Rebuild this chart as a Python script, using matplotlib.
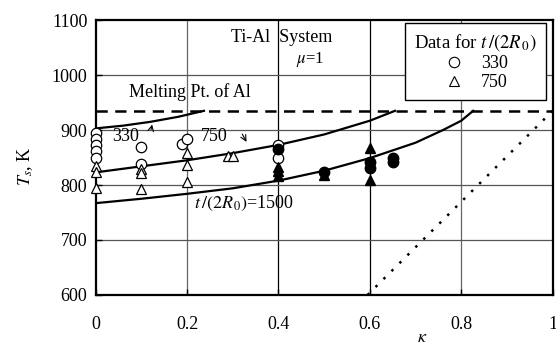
import numpy as np
import matplotlib.pyplot as plt
from matplotlib.lines import Line2D

plt.rcParams['font.family'] = ['Liberation Serif', 'DejaVu Serif']
plt.rcParams['mathtext.fontset'] = 'stix'

# open symbols: t/(2R0) = 330 (circles) and 750 (triangles)
kappa_330 = [0, 0, 0, 0, 0, 0.1, 0.1, 0.19, 0.2, 0.4, 0.4]
T_330 = [894, 883, 872, 862, 850, 870, 839, 875, 883, 873, 849]

kappa_750 = [0, 0, 0, 0.1, 0.1, 0.1, 0.2, 0.2, 0.2, 0.29, 0.3]
T_750 = [835, 823, 795, 830, 822, 792, 858, 836, 806, 852, 853]

# filled symbols
kappa_fc = [0.4, 0.5, 0.6, 0.6, 0.65, 0.65]
T_fc = [866, 824, 842, 831, 850, 841]
kappa_ft = [0.4, 0.4, 0.4, 0.5, 0.6, 0.6]
T_ft = [833, 825, 817, 819, 867, 809]

# calculated curves
curve_k_330 = [0, 0.06, 0.12, 0.18, 0.237]
curve_T_330 = [903, 908, 915, 924, 935]
curve_k_750 = [0, 0.1, 0.2, 0.3, 0.4, 0.5, 0.6, 0.655]
curve_T_750 = [823, 834, 845, 858, 873, 892, 917, 935]
curve_k_1500 = [0, 0.1, 0.2, 0.3, 0.4, 0.5, 0.6, 0.7, 0.76, 0.8, 0.826]
curve_T_1500 = [767, 775, 784, 794, 808, 826, 849, 877, 900, 917, 935]

melt_T = 935
dotted_k = [0.595, 1.0]
dotted_T = [600, 935]

fig = plt.figure(figsize=(5.56, 3.47), dpi=100)
ax = fig.add_axes([0.172, 0.150, 0.822, 0.792])

# grid
for v in [0.2, 0.8]:
    ax.axvline(v, color='#666666', lw=0.9, zorder=1)
for v in [0.4, 0.6]:
    ax.axvline(v, color='black', lw=0.9, zorder=1)
for h in [700, 800, 900, 1000]:
    ax.axhline(h, color='#555555', lw=0.9, zorder=1)

ax.axhline(melt_T, color='black', lw=1.8, ls=(0, (4.5, 3)), zorder=2)
ax.plot(dotted_k, dotted_T, color='black', lw=1.8, ls=(0, (1, 3.5)), zorder=2, clip_on=False)

for k, T in [(curve_k_330, curve_T_330), (curve_k_750, curve_T_750),
             (curve_k_1500, curve_T_1500)]:
    ax.plot(k, T, color='black', lw=1.6, zorder=3)

ms = 7.5
ax.plot(kappa_330, T_330, 'o', mfc='white', mec='black', mew=0.9, ms=ms,
        zorder=4, clip_on=False)
ax.plot(kappa_750, T_750, '^', mfc='white', mec='black', mew=0.9, ms=ms,
        zorder=4, clip_on=False)
ax.plot(kappa_ft, T_ft, '^', color='black', ms=ms, zorder=5)
ax.plot(kappa_fc, T_fc, 'o', color='black', ms=ms, zorder=5)

ax.set_xlim(0, 1)
ax.set_ylim(600, 1100)
ax.set_xticks([0, 0.2, 0.4, 0.6, 0.8, 1])
ax.set_xticklabels(['0', '0.2', '0.4', '0.6', '0.8', '1'])
ax.set_yticks([600, 700, 800, 900, 1000, 1100])
ax.tick_params(direction='in', length=4, width=1, labelsize=13, pad=15,
               colors='black')
ax.tick_params(axis='y', pad=6)
for s in ax.spines.values():
    s.set_linewidth(1.6)

ax.text(0.408, 1068, 'Ti-Al  System', fontsize=13, ha='center', va='center')
ax.text(0.47, 1028, '$\\mu$=1', fontsize=12, ha='center', va='center')
ax.text(0.206, 970, 'Melting Pt. of Al', fontsize=13, ha='center', va='center')
ax.text(0.036, 889, '330', fontsize=13, ha='left', va='center')
ax.text(0.23, 889, '750', fontsize=13, ha='left', va='center')
ax.text(0.215, 767, '$t\\,/(2R_{\\,0})$=1500', fontsize=13, ha='left',
        va='center')
ax.annotate('', xy=(0.125, 915), xytext=(0.12, 896),
            arrowprops=dict(arrowstyle='->', lw=0.8, color='black'))
ax.annotate('', xy=(0.333, 874), xytext=(0.318, 897),
            arrowprops=dict(arrowstyle='->', lw=0.8, color='black'))

handles = [
    Line2D([], [], ls='none', marker='o', mfc='white', mec='black', mew=0.8, ms=7.5),
    Line2D([], [], ls='none', marker='^', mfc='white', mec='black', mew=0.8, ms=7.5),
]
leg = ax.legend(handles, ['330', '750'], title='Data for $t\\,/(2R_{\\,0})$',
                loc='upper right', bbox_to_anchor=(0.985, 0.99),
                borderaxespad=0, fontsize=13, title_fontsize=13.5,
                fancybox=False, framealpha=1, edgecolor='black',
                handletextpad=0.9, labelspacing=0.12, borderpad=0.5,
                handlelength=1.2)
leg.get_frame().set_linewidth(1.0)
leg.set_zorder(6)

fig.text(0.045, 0.52, '$T_s$, K', rotation=90, fontsize=13, ha='center',
         va='center')
fig.text(0.76, 0.004, '$\\kappa$', fontsize=13, ha='center', va='bottom')

fig.savefig('out.png', dpi=100)
